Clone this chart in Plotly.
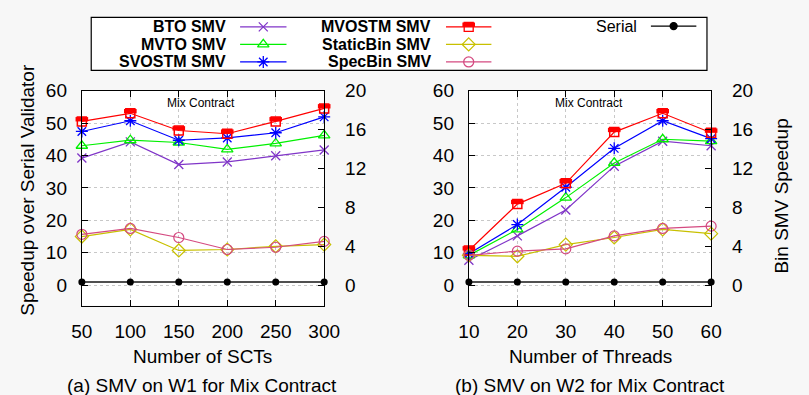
import plotly.graph_objects as go

# ---------------- data ----------------
sct = [50, 100, 150, 200, 250, 300]
threads = [10, 20, 30, 40, 50, 60]

# left axis: speedup over serial validator
w1_bto = [39.2, 44.2, 37.2, 38.0, 39.9, 41.7]
w1_mvto = [43.0, 44.7, 44.0, 41.9, 43.7, 46.2]
w1_svostm = [47.4, 50.7, 44.7, 45.4, 47.0, 51.9]
w1_mvostm = [50.5, 53.0, 47.7, 46.7, 50.5, 54.5]
# right axis: bin SMV speedup
w1_staticbin = [5.0, 5.73, 3.57, 3.67, 4.0, 4.17]
w1_specbin = [5.23, 5.83, 4.9, 3.67, 3.9, 4.5]
w1_serial = [1, 1, 1, 1, 1, 1]

w2_bto = [7.7, 15.2, 23.2, 36.7, 44.4, 43.0]
w2_mvto = [9.2, 17.2, 27.0, 37.7, 45.0, 44.4]
w2_svostm = [9.7, 18.7, 30.2, 42.2, 50.7, 45.2]
w2_mvostm = [10.7, 25.0, 31.4, 47.2, 53.0, 47.0]
w2_staticbin = [3.07, 2.97, 4.17, 4.9, 5.73, 5.3]
w2_specbin = [3.07, 3.5, 3.73, 5.07, 5.83, 6.07]
w2_serial = [1, 1, 1, 1, 1, 1]

left_ticks = [0, 10, 20, 30, 40, 50, 60]
right_ticks = [0, 4, 8, 12, 16, 20]

# ---------------- styling ----------------
W, H = 809, 395
FONT = "Liberation Sans, Arial, Helvetica, sans-serif"
C_BTO = "#8035c8"
C_MVTO = "#00f000"
C_SVO = "#0000ff"
C_MVO = "#ff0000"
C_STB = "#c8c000"
C_SPB = "#d44a80"
C_SER = "#505050"

def px(x):
    return x / W

def py(y):
    return 1 - y / H

YMIN, YMAX = -6.3, 60
PX_PER_UNIT = (303.3 - 82.7) / (YMAX - YMIN)
HALF_OFF = 2.2 / PX_PER_UNIT  # offset of the filled upper half of the square

fig = go.Figure()

def add_panel(x, bto, mvto, svo, mvo, stb, spb, ser, xa, ya, ya2):
    common = dict(mode="lines+markers", showlegend=False, cliponaxis=False, xaxis=xa)
    fig.add_trace(go.Scatter(x=x, y=ser, yaxis=ya, line=dict(color=C_SER, width=2),
                             marker=dict(symbol="circle", size=7, color="black"), **common))
    fig.add_trace(go.Scatter(x=x, y=stb, yaxis=ya2, line=dict(color=C_STB, width=1.2),
                             marker=dict(symbol="diamond-open", size=10, color=C_STB, line=dict(width=1.2)), **common))
    fig.add_trace(go.Scatter(x=x, y=spb, yaxis=ya2, line=dict(color=C_SPB, width=1.2),
                             marker=dict(symbol="circle-open", size=10, color=C_SPB, line=dict(width=1.2)), **common))
    fig.add_trace(go.Scatter(x=x, y=bto, yaxis=ya, line=dict(color=C_BTO, width=1.2),
                             marker=dict(symbol="x-thin-open", size=9, color=C_BTO, line=dict(width=1.3)), **common))
    fig.add_trace(go.Scatter(x=x, y=mvto, yaxis=ya, line=dict(color=C_MVTO, width=1.2),
                             marker=dict(symbol="triangle-up-open", size=10, color=C_MVTO, line=dict(width=1.3)), **common))
    fig.add_trace(go.Scatter(x=x, y=svo, yaxis=ya, line=dict(color=C_SVO, width=1.2),
                             marker=dict(symbol="asterisk-open", size=10, color=C_SVO, line=dict(width=1.3)), **common))
    fig.add_trace(go.Scatter(x=x, y=mvo, yaxis=ya, line=dict(color=C_MVO, width=1.2),
                             marker=dict(symbol="square-open", size=9, color=C_MVO, line=dict(width=1.5)), **common))
    fig.add_trace(go.Scatter(x=x, y=[v + HALF_OFF for v in mvo], yaxis=ya, mode="markers",
                             showlegend=False, cliponaxis=False, xaxis=xa,
                             marker=dict(symbol="line-ew", size=9, color=C_MVO, line=dict(width=4.4, color=C_MVO))))

add_panel(sct, w1_bto, w1_mvto, w1_svostm, w1_mvostm, w1_staticbin, w1_specbin, w1_serial, "x", "y", "y2")
add_panel(threads, w2_bto, w2_mvto, w2_svostm, w2_mvostm, w2_staticbin, w2_specbin, w2_serial, "x2", "y3", "y4")

# ---------------- custom legend (text left, sample right) ----------------
legend_rows = [16.7, 34.7, 52.7]
col1 = [("BTO SMV", C_BTO, "x-thin-open", 9), ("MVTO SMV", C_MVTO, "triangle-up-open", 10),
        ("SVOSTM SMV", C_SVO, "asterisk-open", 10)]
col2 = [("MVOSTM SMV", C_MVO, "square-open", 9), ("StaticBin SMV", C_STB, "diamond-open", 10),
        ("SpecBin SMV", C_SPB, "circle-open", 10)]
annotations = []

def legend_sample(text, color, sym, size, text_right, x0, x1, yrow, bold=True, lw=1.2, mcolor=None):
    annotations.append(dict(x=px(text_right), y=py(yrow), xref="paper", yref="paper",
                            xanchor="right", yanchor="middle", showarrow=False,
                            text=("<b>%s</b>" % text) if bold else text,
                            font=dict(size=16, color="black", family=FONT)))
    fig.add_trace(go.Scatter(x=[x0, x1], y=[yrow, yrow], xaxis="x5", yaxis="y5", mode="lines",
                             line=dict(color=color, width=lw), showlegend=False, hoverinfo="skip"))
    fig.add_trace(go.Scatter(x=[(x0 + x1) / 2], y=[yrow], xaxis="x5", yaxis="y5", mode="markers",
                             marker=dict(symbol=sym, size=size, color=mcolor or color, line=dict(width=1.3, color=mcolor or color)),
                             showlegend=False, hoverinfo="skip", cliponaxis=False))

for (t, c, s, sz), yr in zip(col1, legend_rows):
    legend_sample(t, c, s, sz, 225, 237, 285, yr + 0.6)
for (t, c, s, sz), yr in zip(col2, legend_rows):
    legend_sample(t, c, s, sz, 437, 450, 497, yr + 0.6)
    if s == "square-open":
        fig.add_trace(go.Scatter(x=[473.5], y=[yr + 0.6 - 2.2], xaxis="x5", yaxis="y5", mode="markers",
                                 marker=dict(symbol="line-ew", size=9, color=c, line=dict(width=4.4, color=c)),
                                 showlegend=False, hoverinfo="skip", cliponaxis=False))
legend_sample("Serial", "black", "circle", 7, 650, 662, 709, 16.5, bold=False, lw=1.2)

# ---------------- text annotations ----------------
def note(text, x, y, size=19, angle=0):
    annotations.append(dict(x=px(x), y=py(y), xref="paper", yref="paper", xanchor="center",
                            yanchor="middle", showarrow=False, text=text, textangle=angle,
                            font=dict(size=size, color="black", family=FONT)))

note("Mix Contract", 197, 95.7, size=12)
note("Mix Contract", 598, 95.7, size=12)
note("Number of SCTs", 198.5, 355)
note("Number of Threads", 599, 355)
note("(a) SMV on W1 for Mix Contract", 198, 385)
note("(b) SMV on W2 for Mix Contract", 599, 385)
note("Speedup over Serial Validator", 17, 184, angle=-90)
note("Bin SMV Speedup", 797, 191, angle=-90)

# ---------------- axes ----------------
xd1 = [px(73.3), px(324)]
xd2 = [px(473.7), px(724.3)]
yd = [py(303.3), py(82.7)]
tickfont = dict(size=19, color="black", family=FONT)

def xaxis(dom, rng, ticks, anchor):
    return dict(domain=dom, range=rng, tickvals=ticks, ticks="inside", ticklen=6, tickcolor="black",
                showline=True, linecolor="black", linewidth=1.2, mirror="ticks",
                showgrid=True, gridcolor="#c8c8c8", griddash="dot", gridwidth=1,
                zeroline=False, tickfont=tickfont, anchor=anchor, ticklabelstandoff=8, fixedrange=True)

def yleft(dom, anchor):
    return dict(domain=dom, range=[YMIN, YMAX], tickvals=left_ticks, ticks="inside", ticklen=6,
                tickcolor="black", showline=True, linecolor="black", linewidth=1.2,
                showgrid=True, gridcolor="#c8c8c8", griddash="dot", gridwidth=1, zeroline=False,
                tickfont=tickfont, anchor=anchor, ticklabelstandoff=10)

def yright(overlay, anchor):
    return dict(overlaying=overlay, side="right", range=[YMIN / 3, YMAX / 3], tickvals=right_ticks,
                ticks="inside", ticklen=6, tickcolor="black", showline=True, linecolor="black",
                linewidth=1.2, showgrid=False, zeroline=False, tickfont=tickfont, anchor=anchor,
                ticklabelstandoff=16)

white_rects = [
    dict(type="rect", xref="paper", yref="paper", x0=px(83), x1=px(720), y0=py(62), y1=py(7.5),
         line=dict(color="black", width=1.2), fillcolor="white", layer="below"),
    dict(type="rect", xref="paper", yref="paper", x0=xd1[0], x1=xd1[1], y0=yd[0], y1=yd[1],
         line=dict(width=0), fillcolor="white", layer="below"),
    dict(type="rect", xref="paper", yref="paper", x0=xd2[0], x1=xd2[1], y0=yd[0], y1=yd[1],
         line=dict(width=0), fillcolor="white", layer="below"),
]

fig.update_layout(
    width=W, height=H, margin=dict(l=0, r=0, t=0, b=0),
    paper_bgcolor="#f7f7f7", plot_bgcolor="rgba(0,0,0,0)",
    font=dict(family=FONT, color="black"),
    showlegend=False,
    xaxis=xaxis(xd1, [50, 300], sct, "y"),
    xaxis2=xaxis(xd2, [10, 60], threads, "y3"),
    yaxis=yleft(yd, "x"),
    yaxis2=yright("y", "x"),
    yaxis3=yleft(yd, "x2"),
    yaxis4=yright("y3", "x2"),
    xaxis5=dict(domain=[0, 1], range=[0, W], visible=False, fixedrange=True, anchor="y5"),
    yaxis5=dict(domain=[0, 1], range=[H, 0], visible=False, fixedrange=True, anchor="x5"),
    annotations=annotations,
    shapes=white_rects,
)

fig.write_html("out.html")
